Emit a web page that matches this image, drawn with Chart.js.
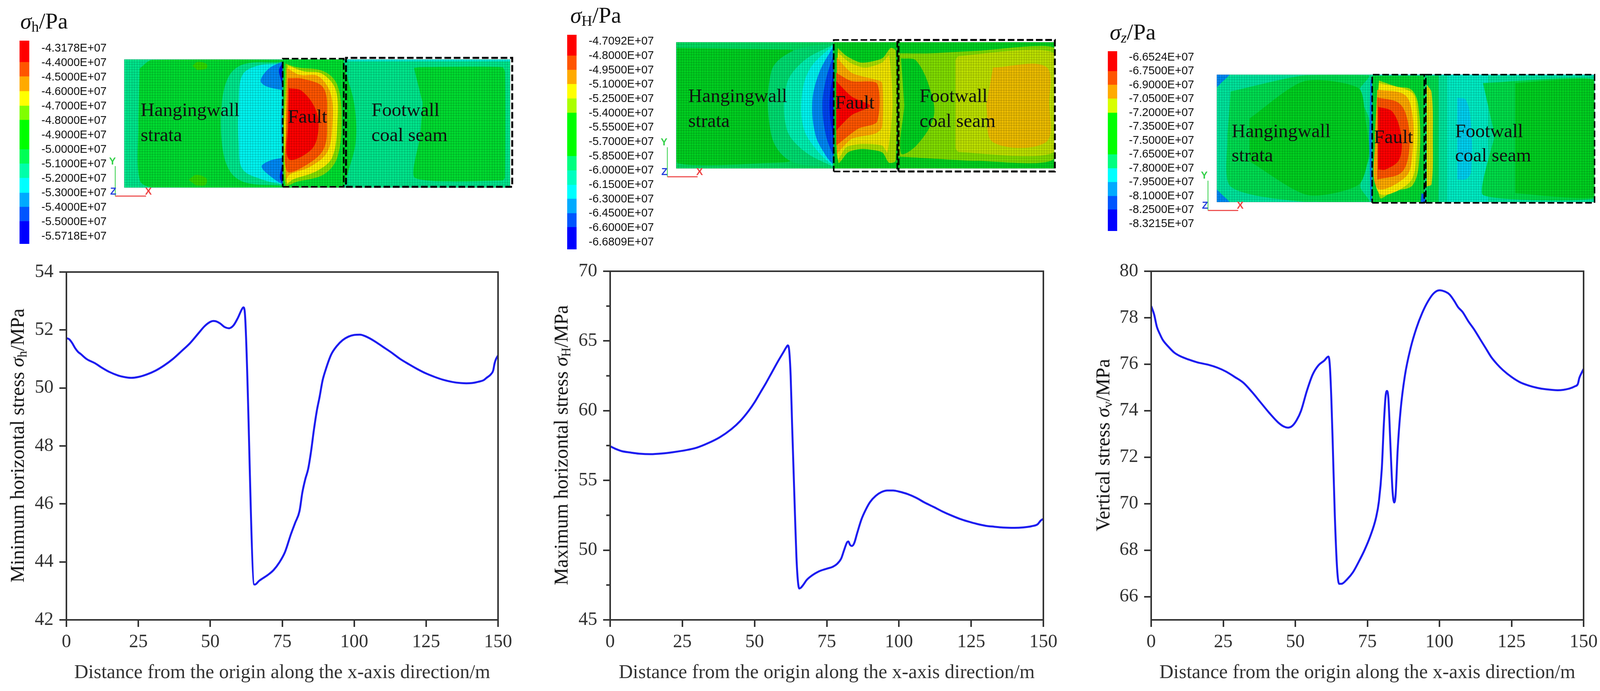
<!DOCTYPE html>
<html>
<head>
<meta charset="utf-8">
<title>Stress distribution</title>
<script src="https://cdn.jsdelivr.net/npm/chart.js@4/dist/chart.umd.js"></script>
<style>
  html, body { margin: 0; background: #fff; overflow: hidden; }
  #page { position: relative; width: 4105px; height: 1768px; overflow: hidden; }
  canvas { position: absolute; }
  .txt { position: absolute; white-space: nowrap; font-family: "Liberation Serif", serif; color: #111; line-height: 1; }
  .txt sub { font-size: 0.66em; vertical-align: -0.22em; line-height: 0; }
  .axisY { transform: translate(-50%, -50%) rotate(-90deg); }
  .triad { font-family: "Liberation Sans", sans-serif; font-weight: bold; font-size: 26px; transform: translate(-50%, -50%); }
</style>
</head>
<body>
<div id="page"></div>
<script>
// curve data, distance along x (m) and stress (MPa)
const distMin = [0,1,2,3,4,5,7,10,12,15,18,20,22.5,25,28,31,34,37,40,43,46,48,50,51,52,53.5,55,56.5,58,59.5,61,61.5,62,65.3,65.5,67,70,72,74,76,78,79.5,81,82,83,84,85,86,87,88,89,90,92,94,96,98,100,102,104,107,110,113,116,119,122,125,128,131,134,137,139,141,143,145,146,147.5,148.3,148.8,149.3,150];
const stressMin = [51.72,51.68,51.55,51.38,51.25,51.17,51,50.85,50.72,50.55,50.43,50.38,50.35,50.38,50.47,50.6,50.78,51,51.27,51.55,51.9,52.13,52.28,52.31,52.3,52.22,52.1,52.06,52.15,52.4,52.72,52.78,52.6,43.22,43.22,43.35,43.55,43.72,43.98,44.35,44.95,45.35,45.75,46.4,46.85,47.2,47.8,48.55,49.2,49.7,50.25,50.6,51.15,51.45,51.65,51.77,51.83,51.84,51.78,51.62,51.42,51.22,51,50.82,50.65,50.5,50.38,50.28,50.21,50.17,50.16,50.17,50.21,50.27,50.35,50.47,50.6,50.85,51,51.12];

const distMax = [0,2,4,7,10,14,18,22,26,30,34,38,42,45,48,50,52,54,56,58,60,61,61.5,62,62.5,63,64,64.5,65,65.5,66,67,68,70,72,75,77,78.5,80,81,82,82.5,83,83.7,84.5,85.5,87,88.5,90,92,94,96,98,100,103,106,109,112,115,118,121,124,127,130,133,136,140,143,146,148,149,150];
const stressMax = [57.45,57.25,57.1,57,56.92,56.88,56.93,57.03,57.16,57.35,57.68,58.1,58.68,59.25,60,60.6,61.3,62,62.75,63.5,64.2,64.55,64.68,64.3,62.5,59,52.5,49.5,47.8,47.25,47.3,47.55,47.85,48.2,48.45,48.67,48.8,49,49.4,50,50.55,50.62,50.4,50.3,50.5,51.2,52.2,52.9,53.45,53.9,54.17,54.28,54.28,54.2,54.02,53.75,53.4,53.1,52.78,52.5,52.25,52.05,51.88,51.75,51.68,51.62,51.6,51.63,51.72,51.85,52.1,52.25];

const distVert = [0,1,2,3,4,6,8,10,13,16,20,23,26,29,32,35,38,41,44,46,47.5,49,50.5,52,54,56,58,60,61.5,62,62.5,63,63.7,64.5,65.2,66,68,70,72,74,76,78,79,80,80.7,81.3,81.8,82.3,83,83.7,84.3,84.8,85.5,86.5,88,90,92,94,96,98,100,102,103.5,105,106.5,108,110,112,114,116,118,120,122,125,128,131,134,137,141,145,147,148,148.5,149.2,150];
const stressVert = [78.5,78.15,77.6,77.3,77.05,76.75,76.5,76.35,76.2,76.08,75.97,75.85,75.68,75.45,75.2,74.8,74.35,73.9,73.5,73.32,73.27,73.35,73.6,74,74.85,75.55,75.95,76.15,76.33,75.9,74.5,72.5,69.5,67.2,66.55,66.55,66.75,67.05,67.5,68,68.6,69.4,70.1,71.5,73.4,74.6,74.85,74.5,72.5,70.6,70.05,70.4,72.3,74,75.5,76.7,77.55,78.2,78.7,79.05,79.18,79.12,79,78.75,78.45,78.25,77.85,77.5,77.1,76.7,76.3,76,75.75,75.45,75.22,75.08,74.98,74.92,74.88,74.95,75.05,75.15,75.4,75.6,75.8];

const xTicks = [0,25,50,75,100,125,150];
const yTicksMin = [42,44,46,48,50,52,54];
const yTicksMax = [45,50,55,60,65,70];
const yMinorMax = [47.5,52.5,57.5,62.5,67.5];
const yTicksVert = [66,68,70,72,74,76,78,80];

// colour bar labels
const barLabelsH = ['-4.3178E+07','-4.4000E+07','-4.5000E+07','-4.6000E+07','-4.7000E+07','-4.8000E+07','-4.9000E+07','-5.0000E+07','-5.1000E+07','-5.2000E+07','-5.3000E+07','-5.4000E+07','-5.5000E+07','-5.5718E+07'];
const barLabelsM = ['-4.7092E+07','-4.8000E+07','-4.9500E+07','-5.1000E+07','-5.2500E+07','-5.4000E+07','-5.5500E+07','-5.7000E+07','-5.8500E+07','-6.0000E+07','-6.1500E+07','-6.3000E+07','-6.4500E+07','-6.6000E+07','-6.6809E+07'];
const barLabelsZ = ['-6.6524E+07','-6.7500E+07','-6.9000E+07','-7.0500E+07','-7.2000E+07','-7.3500E+07','-7.5000E+07','-7.6500E+07','-7.8000E+07','-7.9500E+07','-8.1000E+07','-8.2500E+07','-8.3215E+07'];
// band edges, in label steps
const barEdgesH = [-0.53,0.94,1.93,2.95,3.96,4.94,6.97,7.96,8.95,9.98,10.95,11.94,13.52];
const barEdgesM = [-0.47,0.97,1.97,2.96,3.96,4.96,7.98,8.98,9.99,10.96,11.97,12.94,14.5];
const barEdgesZ = [-0.45,0.98,1.96,2.96,3.98,6.98,7.98,8.97,9.98,10.95,12.51];
const barColorsH = ['#ff0000','#ff5500','#ffaa00','#ffff00','#80ff00','#00ff00','#00ff55','#00ffaa','#00ffff','#00aaff','#0055ff','#0000ff'];
const barColorsM = ['#ff0000','#ff5500','#ffaa00','#ffff00','#aaff00','#00ff00','#00ff80','#00ffc0','#00ffff','#00aaff','#0055ff','#0000ff'];
const barColorsZ = ['#ff0000','#ff5500','#ffaa00','#d8ff00','#00ff00','#00ff80','#00ffff','#00aaff','#0055ff','#0000ff'];

// contour outlines for the three sections, x and y in m, painted back to front
const wholeRect = [[0,0],[150,0],[150,50],[0,50]];

const hTopStrip = [[86,49.2],[150,49.2],[150,50],[86,50]];
const hHanging = [[6,46.5],[11,49.8],[61.6,49.8],[61.6,49],[47,48.3],[41,44],[38,33.5],[38,17],[41,6.5],[47,2],[61.6,0.7],[61.6,0.1],[11,0.1],[6,3],[5.5,26]];
const hBlobTop = [[26.5,47.5],[28.5,49],[32,48.2],[32,46.5],[28.5,45.8]];
const hBlobBot = [[25,3],[28,5],[32,3.5],[31.5,1],[28,0.8]];
const hCyan = [[61.6,48.4],[52,47.6],[46,44],[44.5,33.5],[44.5,17],[46,7.2],[53.5,3.2],[61.6,1.2]];
const hBlueTop = [[61.6,49.2],[56.3,46.5],[53,41.8],[55,39.6],[61.6,38]];
const hBlueBot = [[61.6,1.2],[57.6,3.8],[53.4,8.1],[56.3,10.4],[61.6,11.7]];
const hDeepTop = [[61.6,48.8],[60.2,45.9],[60.9,42],[61.6,39.4]];
const hDeepBot = [[61.6,1.2],[60.5,3.8],[60.9,7],[61.6,9.8]];
const hSliver = [[61.6,38],[60.9,25],[61.6,11.7]];
const hFaultBase = [[61.6,0],[85.2,0],[85.2,50],[61.6,50]];
const hFaultYG = [[62.7,48.4],[66.9,47],[77.5,45.4],[82.8,40.1],[84.5,26.9],[82.8,11.7],[77.5,5.1],[66.9,2.2],[62.7,0.9],[61.9,25]];
const hFaultY = [[63.6,47.7],[69.6,45.4],[76.9,44.4],[82.2,38.1],[82.8,24.3],[80.8,11.7],[74.9,6.5],[65.6,3.2],[63.2,1.8],[62.2,25]];
const hFaultO = [[63.2,46.7],[68.2,44],[75.5,43.4],[80.4,36.1],[80.8,23],[78.8,13.7],[72.2,8.1],[64.3,5.1],[62.9,3.2],[62.6,25]];
const hFaultOR = [[63.6,42.7],[69.6,42.4],[77.5,38.8],[78.8,26.9],[77.5,15],[69.6,8.1],[63.2,6.5],[63.1,25]];
const hFaultR = [[64,38.8],[68.9,37.8],[74.2,30.9],[75.5,23],[72.9,15],[64,11.1],[63.7,25]];
const hFootLeft = [[85.2,50],[86.5,44],[89.5,32],[90,18],[87,6],[85.2,0]];
const hFootRight = [[112.6,46.7],[115,47],[147,47],[148,45],[148,4],[147,2.8],[113,3.8],[115,20],[116,33]];

const mMain = [[0.3,47.7],[46,47],[46.5,46.6],[37.8,38.6],[37.8,13.1],[45.2,3],[40,2.3],[0.3,2.3],[0.3,25]];
const mTeal = [[62.1,49.7],[46.5,46.6],[37.8,38.6],[37.8,13.1],[45.2,3],[62.1,0.3]];
const mAqua = [[62.1,49],[50.6,42.6],[43.8,33.2],[43.8,15.8],[50.6,7],[62.1,0.7]];
const mCyan = [[62.1,48.7],[53.3,39.9],[49.9,29.2],[50.6,15.8],[56,7],[62.1,1]];
const mBlue = [[62.1,48],[56.7,37.9],[54,26.5],[55.3,13.1],[59.4,5],[62.1,1.7]];
const mDeep = [[62.5,45.3],[59.4,35.2],[58,25],[59.4,13.1],[62.5,4.4]];
const mDark = [[62.5,39.9],[60.8,25.2],[62.5,9.7]];
const mFaultBase = [[62.5,0],[88,0],[88,50],[62.5,50]];
const mFaultYG = [[64.1,47.7],[67.5,44.6],[73.6,41.9],[81.7,43.6],[85.1,47.7],[87.1,46.6],[87.1,3],[84.4,2.3],[81.7,6.4],[73.6,7.7],[68.2,6.4],[64.4,2.3],[63.5,25]];
const mFaultY = [[64.1,46],[68.9,41.9],[75,39.9],[81.7,41.9],[84.4,44.6],[85.8,25],[83.8,6.4],[81.7,9.1],[73.6,9.7],[67.5,8.4],[64.1,3.7],[63.5,25]];
const mFaultO = [[63.7,44],[69.6,37.9],[79,35.2],[81.7,33.9],[81.7,16.4],[79,13.8],[69.6,11.7],[63.7,5.7]];
const mFaultOR = [[63.5,37.9],[69.6,34.6],[79.7,33.6],[79.7,18.5],[72.3,15.8],[63.5,9.1]];
const mFaultR = [[63.5,34.6],[69.6,28.5],[77,24.8],[69.6,21.1],[63.5,15.1]];
const mFootBase = [[88,0],[150,0],[150,50],[88,50]];
const mFootYG = [[88.2,45.6],[100.7,45.6],[119.6,46.6],[150,47.7],[150,4],[119.6,3],[100.7,4],[88.2,4.7]];
const mFootPale = [[110.8,43],[112,44.5],[150,45.5],[150,6.7],[112,6.5],[110.8,8]];
const mFootO = [[125.7,40],[146.7,40.3],[148,26],[146.7,10.4],[125.7,10.4],[123,25]];
const mFootPocket = [[89.2,43.6],[95.3,42.6],[101.4,29.2],[102,19.8],[95.3,9.1],[89.2,6],[90.5,25]];

const zCornerTop = [[0,50],[5,50],[2,47],[0,45]];
const zCornerBot = [[0,0],[5,0],[2,3],[0,5]];
const zLight = [[5.5,43.4],[34.6,49.7],[60.4,49.7],[56.3,43.4],[60.4,32.8],[61,19.4],[57,6.1],[60.4,0.1],[34.6,0.1],[5.5,6.1],[4.2,26]];
const zInner = [[13,32.8],[34.6,47.4],[56.3,44.7],[59,32.8],[60.4,19.4],[56.3,6.8],[36,2.8],[13,16]];
const zSliver = [[61,48],[60.5,25],[61,0.5],[61.7,0.5],[61.7,48]];
const zFaultBase = [[61.7,0],[82.4,0],[82.4,50],[61.7,50]];
const zFaultYG = [[64.4,47.7],[71.2,45.4],[77.3,44.1],[80,38.1],[80.6,19.4],[77.9,6.8],[69.8,4.1],[64.7,1.8],[62.7,26.1]];
const zFaultY = [[64.4,46.7],[77.3,43.1],[79.3,36.8],[79.3,19.4],[76.6,7.8],[64.4,3.5],[63,26.1]];
const zFaultO = [[63.7,44.1],[74.6,42.1],[77.7,34.1],[77.7,19.4],[75.2,10.1],[63.7,5.5],[62.8,26.1]];
const zFaultOR = [[63.7,41.1],[72.5,38.7],[75.9,31.4],[76.3,19.4],[73.2,11.5],[63.7,8.8]];
const zFaultR = [[64.1,37.4],[69.8,35.4],[73.2,26.1],[72.5,16.8],[67.1,12.8],[64.1,12.8]];
const zFaultCorner = [[81.3,3.5],[82.4,3],[83,0],[81,0]];
const zFootLeft = [[83,50],[88.1,50],[88.1,0],[83,0]];
const zFootSliver = [[83.4,46.1],[85.3,43],[85.8,25],[85.3,7],[83.4,6.1]];
const zFootPale = [[91.5,50],[107.7,50],[107.7,0],[91.5,0]];
const zFootBlue = [[95.5,41],[99,40],[101,30],[101,12],[99,9],[95.5,8.8]];
const zFootG = [[105.7,46.7],[149.7,48.1],[150,1.5],[105.7,2.8],[110.4,26.1]];
const zFootG2 = [[118.5,46.7],[149.7,47.7],[149.7,2.1],[118.5,3.5]];
const zTopStrip = [[61.7,49.6],[150,49.6],[150,50],[61.7,50]];

// dashed zones and the little xyz axes
const hBoxFault = [[61.6,0.3],[85.3,0.3],[85.3,50.3],[61.6,50.3],[61.6,0.3]];
const hBoxFoot = [[86.2,0.3],[150.8,0.3],[150.8,50.6],[86.2,50.6],[86.2,0.3]];
const mBoxFault = [[62.5,-1.2],[87.7,-1.2],[87.7,50.9],[62.5,50.9],[62.5,-1.2]];
const mBoxFoot = [[88.2,-1.2],[150.2,-1.2],[150.2,50.9],[88.2,50.9],[88.2,-1.2]];
const zBoxFault = [[61.7,-0.3],[82.4,-0.3],[82.4,50],[61.7,50],[61.7,-0.3]];
const zBoxFoot = [[83,-0.3],[150,-0.3],[150,50],[83,50],[83,-0.3]];
const triadY = [[-3.5,8.4],[-3.5,-3.3]];
const triadX = [[-3.5,-3.3],[8.5,-3.3]];

const page = document.getElementById('page');
const serif = '"Liberation Serif", serif';
const inkColor = '#333';

function addCanvas(left, top, width, height) {
  const c = document.createElement('canvas');
  c.width = width;
  c.height = height;
  c.style.left = left + 'px';
  c.style.top = top + 'px';
  c.style.width = width + 'px';
  c.style.height = height + 'px';
  page.appendChild(c);
  return c;
}

function addText(html, left, baseline, size, extra) {
  const d = document.createElement('div');
  d.className = 'txt';
  d.innerHTML = html;
  d.style.left = left + 'px';
  d.style.top = (baseline - 0.84 * size) + 'px';
  d.style.fontSize = size + 'px';
  if (extra) Object.assign(d.style, extra);
  page.appendChild(d);
}

function addAxisTitle(html, cx, cy) {
  const d = document.createElement('div');
  d.className = 'txt axisY';
  d.innerHTML = html;
  d.style.left = cx + 'px';
  d.style.top = cy + 'px';
  d.style.fontSize = '50px';
  page.appendChild(d);
}

function addTriadLetter(text, color, cx, cy) {
  const d = document.createElement('div');
  d.className = 'txt triad';
  d.textContent = text;
  d.style.left = cx + 'px';
  d.style.top = cy + 'px';
  d.style.color = color;
  page.appendChild(d);
}

// box around the plot and the short minor ticks
const framePlugin = {
  id: 'frame',
  afterDraw(chart, args, opts) {
    const a = chart.chartArea, ctx = chart.ctx;
    ctx.save();
    ctx.strokeStyle = inkColor;
    ctx.lineWidth = 4;
    ctx.strokeRect(a.left, a.top, a.right - a.left, a.bottom - a.top);
    (opts.minor || []).forEach(function(v) {
      const py = chart.scales.y.getPixelForValue(v);
      ctx.beginPath();
      ctx.moveTo(a.left, py);
      ctx.lineTo(a.left - 10, py);
      ctx.stroke();
    });
    ctx.restore();
  }
};

function makeLineChart(p) {
  // canvas is kept wider and taller than the plot, tick padding eats into the margins
  const canvasTop = 620, marginRight = 90;
  const c = addCanvas(p.plotLeft - p.gutter, canvasTop, p.gutter + p.plotWidth + marginRight, 1768 - canvasTop);
  new Chart(c, {
    type: 'scatter',
    data: {
      datasets: [{
        data: p.xs.map((x, i) => ({ x: x, y: p.ys[i] })),
        showLine: true,
        pointRadius: 0,
        borderColor: '#1c1cf0',
        borderWidth: 5,
        cubicInterpolationMode: 'monotone'
      }]
    },
    plugins: [framePlugin],
    options: {
      responsive: false,
      animation: false,
      devicePixelRatio: 1,
      layout: { padding: { top: p.plotTop - canvasTop, right: marginRight } },
      plugins: { legend: { display: false }, tooltip: { enabled: false }, frame: { minor: p.minor } },
      scales: {
        x: {
          min: 0, max: 150,
          afterBuildTicks: s => { s.ticks = xTicks.map(v => ({ value: v })); },
          afterFit: s => { s.height = 182; },
          grid: { drawOnChartArea: false, color: inkColor, lineWidth: 4, tickLength: 18 },
          border: { color: inkColor, width: 4 },
          ticks: { color: inkColor, font: { family: serif, size: 48 }, padding: 11, maxRotation: 0, autoSkip: false },
          title: { display: true, text: 'Distance from the origin along the x-axis direction/m', color: inkColor, font: { family: serif, size: 50 }, padding: { top: 0, bottom: 16 } }
        },
        y: {
          min: p.yMin, max: p.yMax,
          afterBuildTicks: s => { s.ticks = p.yTicks.map(v => ({ value: v })); },
          afterFit: s => { s.width = p.gutter; },
          grid: { drawOnChartArea: false, color: inkColor, lineWidth: 4, tickLength: 18 },
          border: { color: inkColor, width: 4 },
          ticks: { color: inkColor, font: { family: serif, size: 48 }, padding: 15, autoSkip: false }
        }
      }
    }
  });
}

function makeColorBar(p) {
  const margin = 60;
  const top = p.barTop - margin;
  const height = p.barBottom - p.barTop + 2 * margin;
  const c = addCanvas(p.left, top, p.width, height);
  const bands = p.colors.map((col, i) => ({
    data: [[p.edges[i], p.edges[i + 1]]],
    backgroundColor: col,
    grouped: false,
    barPercentage: 1,
    categoryPercentage: 1
  }));
  new Chart(c, {
    type: 'bar',
    data: { labels: [''], datasets: bands },
    options: {
      responsive: false,
      animation: false,
      devicePixelRatio: 1,
      layout: { padding: { left: p.barLeft - p.left, top: margin, bottom: margin } },
      plugins: { legend: { display: false }, tooltip: { enabled: false } },
      scales: {
        x: { display: false },
        y: {
          position: 'right',
          reverse: true,
          min: p.edges[0],
          max: p.edges[p.edges.length - 1],
          afterBuildTicks: s => { s.ticks = p.labels.map((t, i) => ({ value: i })); },
          afterFit: s => { s.width = p.left + p.width - p.barLeft - p.barWidth; },
          grid: { display: false },
          border: { display: false },
          ticks: {
            color: '#111',
            font: { family: '"Liberation Sans", sans-serif', size: 29 },
            padding: p.labelGap,
            autoSkip: false,
            callback: v => p.labels[v]
          }
        }
      }
    }
  });
}

function makeSection(p) {
  const c = addCanvas(p.left, p.top, p.width, p.height);
  const total = p.layers.length + p.lines.length;
  const sets = p.layers.map((l, i) => ({
    data: l[0].map(q => ({ x: q[0], y: q[1] })),
    showLine: true,
    pointRadius: 0,
    borderWidth: 0,
    backgroundColor: l[1],
    fill: 'shape',
    tension: l[2] === undefined ? 0.35 : l[2],
    order: total - i
  }));
  p.lines.forEach((l, i) => {
    sets.push({
      data: l[0].map(q => ({ x: q[0], y: q[1] })),
      showLine: true,
      pointRadius: 0,
      borderColor: l[1],
      borderWidth: l[2],
      borderDash: l[3] || [],
      clip: false,
      order: total - p.layers.length - i
    });
  });
  const mesh = { z: 1, color: 'rgba(0,0,0,0.12)', lineWidth: 2, drawTicks: false };
  new Chart(c, {
    type: 'scatter',
    data: { datasets: sets },
    options: {
      responsive: false,
      animation: false,
      devicePixelRatio: 1,
      layout: { padding: p.pad },
      plugins: { legend: { display: false }, tooltip: { enabled: false } },
      scales: {
        x: {
          min: 0, max: 150,
          afterFit: s => { s.height = 0; },
          border: { display: false },
          grid: mesh,
          ticks: { display: false, stepSize: 1, autoSkip: false, maxTicksLimit: 200 }
        },
        y: {
          min: 0, max: 50,
          afterFit: s => { s.width = 0; },
          border: { display: false },
          grid: mesh,
          ticks: { display: false, stepSize: 1, autoSkip: false, maxTicksLimit: 200 }
        }
      }
    }
  });
}

makeLineChart({ plotLeft: 170, plotWidth: 1105, plotTop: 696, gutter: 170, xs: distMin, ys: stressMin, yMin: 42, yMax: 54, yTicks: yTicksMin });
makeLineChart({ plotLeft: 1562, plotWidth: 1109, plotTop: 694, gutter: 162, xs: distMax, ys: stressMax, yMin: 45, yMax: 70, yTicks: yTicksMax, minor: yMinorMax });
makeLineChart({ plotLeft: 2947, plotWidth: 1107, plotTop: 694, gutter: 167, xs: distVert, ys: stressVert, yMin: 65, yMax: 80, yTicks: yTicksVert });

addAxisTitle('Minimum horizontal stress <i>σ</i><sub>h</sub>/MPa', 44, 1140);
addAxisTitle('Maximum horizontal stress <i>σ</i><sub>H</sub>/MPa', 1436, 1139);
addAxisTitle('Vertical stress <i>σ</i><sub>v</sub>/MPa', 2823, 1139);

makeColorBar({ left: 30, width: 270, barLeft: 50, barWidth: 25, barTop: 104, barBottom: 624, labelGap: 23, labels: barLabelsH, edges: barEdgesH, colors: barColorsH });
makeColorBar({ left: 1430, width: 270, barLeft: 1452, barWidth: 24, barTop: 89, barBottom: 638, labelGap: 23, labels: barLabelsM, edges: barEdgesM, colors: barColorsM });
makeColorBar({ left: 2815, width: 265, barLeft: 2836, barWidth: 24, barTop: 131, barBottom: 591, labelGap: 22, labels: barLabelsZ, edges: barEdgesZ, colors: barColorsZ });

const dash = [17, 7];
const green = '#00dc30', greenDeep = '#00d020', teal = '#00e68c', cyan = '#00f4f0', sky = '#0088f4', navy = '#0014e4';
const yg = '#86e000', yel = '#fff000', ora = '#ffaa00', orr = '#ff5500', red = '#ff0000';
makeSection({
  left: 270, top: 130, width: 1060, height: 390, pad: { left: 48, top: 22, right: 24, bottom: 40 },
  layers: [
    [wholeRect, teal, 0], [hTopStrip, '#00e8d0', 0], [hHanging, green], [hBlobTop, '#30d800'], [hBlobBot, '#30d800'],
    [hCyan, cyan], [hBlueTop, sky], [hBlueBot, sky], [hDeepTop, navy], [hDeepBot, navy], [hSliver, '#00a8f4'],
    [hFaultBase, '#00e030', 0], [hFaultYG, yg], [hFaultY, yel], [hFaultO, ora], [hFaultOR, orr], [hFaultR, red],
    [hFootLeft, green], [hFootRight, green, 0.2]
  ],
  lines: [[hBoxFault, '#000', 4, dash], [hBoxFoot, '#000', 5, dash], [triadY, '#35d04a', 2], [triadX, '#ee5555', 3]]
});
makeSection({
  left: 1690, top: 90, width: 1030, height: 370, pad: { left: 41, top: 18, right: 21, bottom: 29 },
  layers: [
    [wholeRect, '#00dc60', 0], [mMain, greenDeep, 0.2], [mTeal, '#00dc70'], [mAqua, '#00f0b0'], [mCyan, cyan], [mBlue, sky], [mDeep, '#0044f0'], [mDark, navy],
    [mFaultBase, greenDeep, 0], [mFaultYG, '#aae000', 0.25], [mFaultY, '#f0e400', 0.25], [mFaultO, ora, 0.25], [mFaultOR, orr, 0.25], [mFaultR, red, 0.25],
    [mFootBase, greenDeep, 0], [mFootYG, '#80dc00', 0.2], [mFootPale, '#bce000', 0.2], [mFootO, '#ecbc00'], [mFootPocket, greenDeep]
  ],
  lines: [[mBoxFault, '#000', 4, dash], [mBoxFoot, '#000', 5, dash], [triadY, '#35d04a', 2], [triadX, '#ee5555', 3]]
});
makeSection({
  left: 3075, top: 170, width: 1030, height: 380, pad: { left: 40, top: 21, right: 23, bottom: 33 },
  layers: [
    [wholeRect, '#00e49c', 0], [zCornerTop, sky, 0.2], [zCornerBot, sky, 0.2], [zLight, '#00dc50', 0.25], [zInner, greenDeep, 0.25], [zSliver, sky, 0],
    [zFaultBase, '#00d830', 0], [zFaultYG, '#aae400'], [zFaultY, yel], [zFaultO, ora], [zFaultOR, orr], [zFaultR, red], [zFaultCorner, '#0060f4', 0],
    [zFootLeft, '#00dc50', 0], [zFootSliver, '#e0dc00'], [zFootPale, '#00ecc4', 0], [zFootBlue, '#00d0f0'], [zFootG, '#00dc48', 0.15], [zFootG2, greenDeep, 0.1], [zTopStrip, '#00e8e0', 0]
  ],
  lines: [[zBoxFault, '#000', 4, dash], [zBoxFoot, '#000', 4, dash], [triadY, '#35d04a', 2], [triadX, '#ee5555', 3]]
});

addText('<i>σ</i><sub>h</sub>/Pa', 52, 74, 58);
addText('<i>σ</i><sub>H</sub>/Pa', 1460, 59, 58);
addText('<i>σ</i><sub><i>z</i></sub>/Pa', 2841, 102, 58);

// zone labels
addText('Hangingwall', 360, 297, 49); addText('strata', 360, 361, 49);
addText('Fault', 737, 314, 49);
addText('Footwall', 951, 297, 49); addText('coal seam', 951, 361, 49);
addText('Hangingwall', 1762, 261, 49); addText('strata', 1762, 325, 49);
addText('Fault', 2138, 278, 49);
addText('Footwall', 2354, 261, 49); addText('coal seam', 2354, 325, 49);
addText('Hangingwall', 3153, 351, 49); addText('strata', 3153, 413, 49);
addText('Fault', 3517, 366, 49);
addText('Footwall', 3725, 351, 49); addText('coal seam', 3725, 413, 49);

addTriadLetter('Y', '#35d04a', 288, 412); addTriadLetter('Z', '#2a44dd', 290, 489); addTriadLetter('X', '#ee4444', 380, 489);
addTriadLetter('Y', '#35d04a', 1700, 363); addTriadLetter('Z', '#2a44dd', 1701, 439); addTriadLetter('X', '#ee4444', 1791, 439);
addTriadLetter('Y', '#35d04a', 3083, 448); addTriadLetter('Z', '#2a44dd', 3085, 525); addTriadLetter('X', '#ee4444', 3175, 525);
</script>
</body>
</html>
